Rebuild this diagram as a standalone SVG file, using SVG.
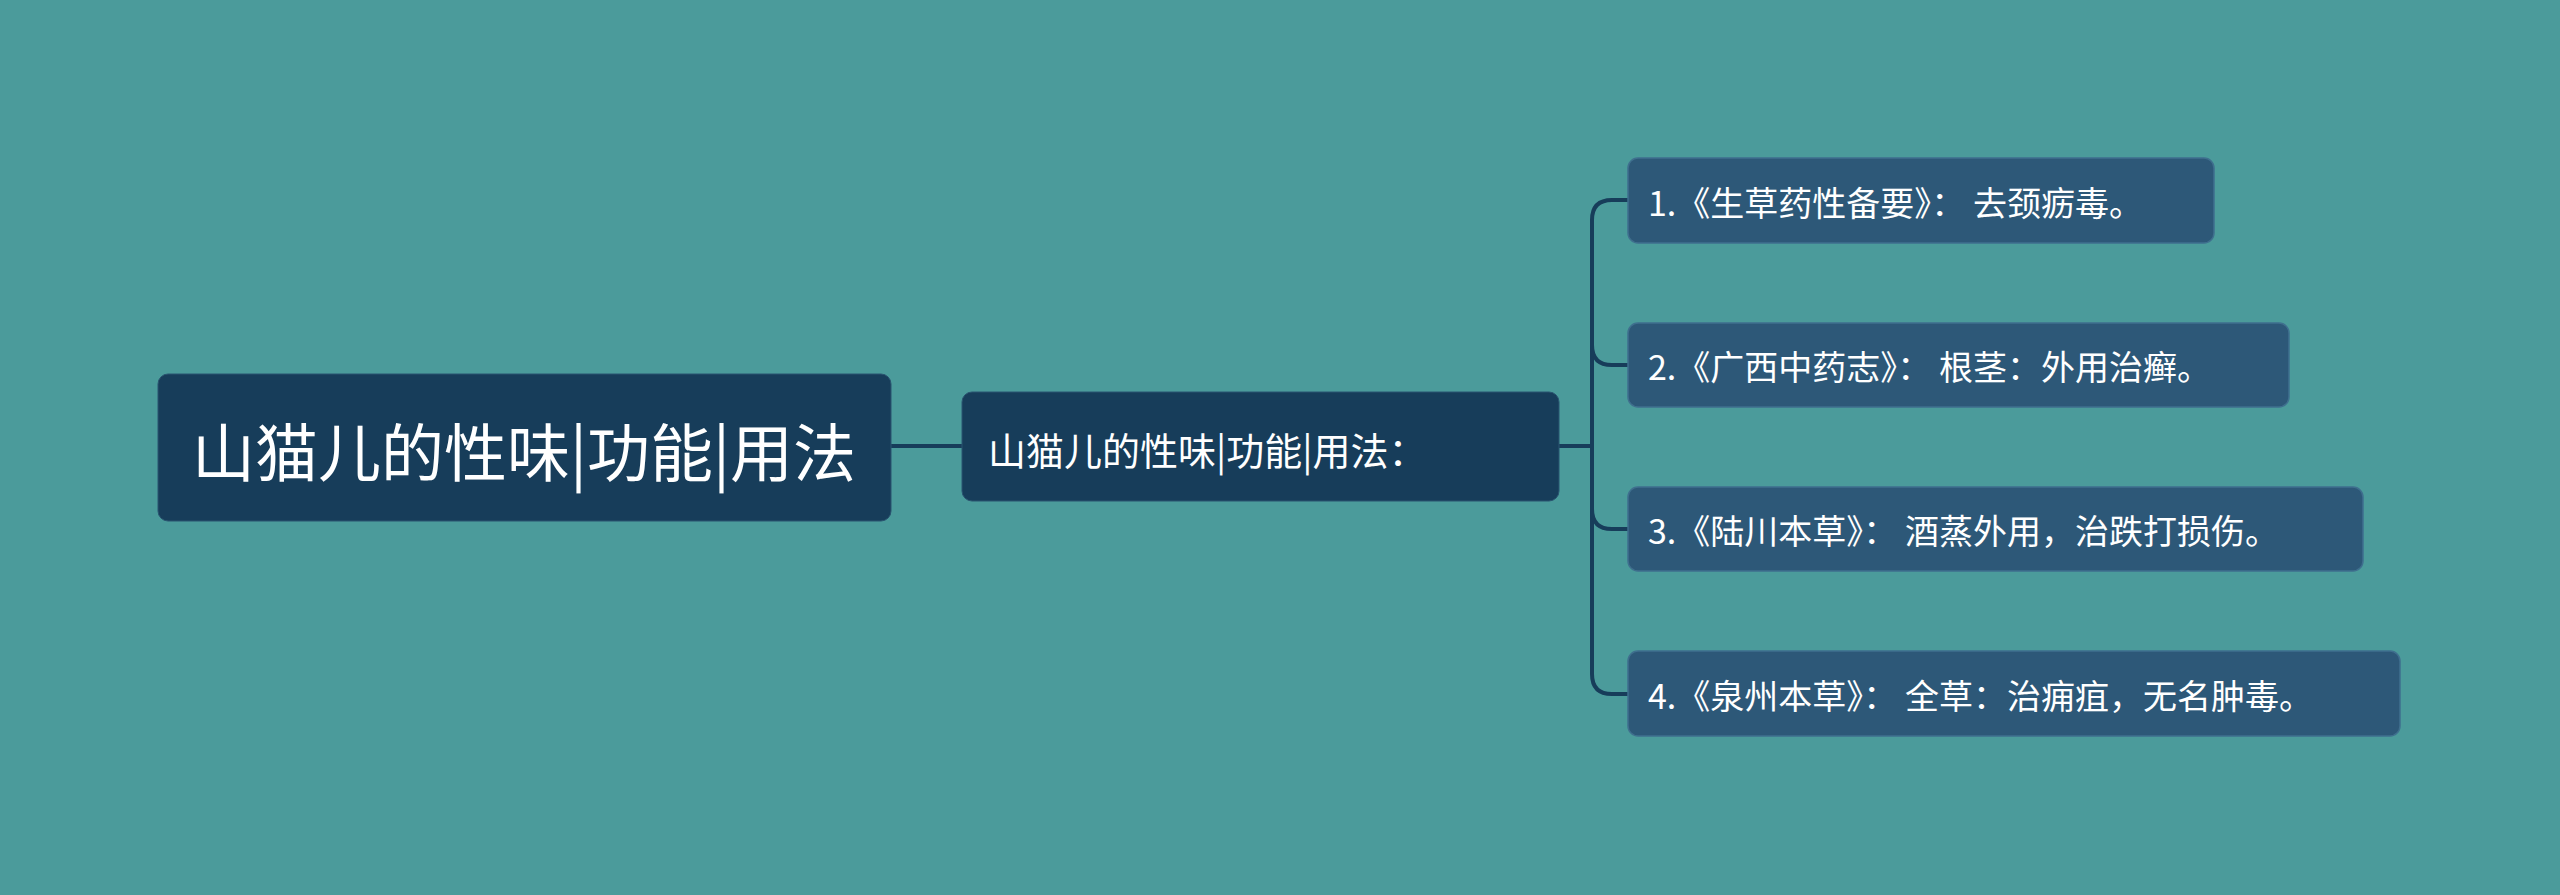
<svg xmlns="http://www.w3.org/2000/svg" width="2560" height="895" viewBox="0 0 2560 895">
<style>
text{font-family:"Noto Sans CJK SC","Noto Sans",sans-serif;fill:#fff;dominant-baseline:central}
.l rect{fill:#2d5878;stroke:#3f6f8e;stroke-width:1.5}
.l text{font-size:34px}
path{fill:none;stroke:#173d5a;stroke-width:4}
</style>
<rect width="2560" height="895" fill="#4b9b9b"/>
<g id="connectors">
<path d="M891 446H962"/>
<path d="M1559 446H1592"/>
<path d="M1628 200H1612Q1592 200 1592 220V674Q1592 694 1612 694H1628"/>
<path d="M1592 345Q1592 365 1612 365H1628"/>
<path d="M1592 509Q1592 529 1612 529H1628"/>
</g>
<g id="root"><rect x="158" y="374" width="733" height="147" rx="10" fill="#173d5a" stroke="#2a5470"/><text x="524" y="448" font-size="63" text-anchor="middle">山猫儿的性味|功能|用法</text></g>
<g id="mid"><rect x="962" y="392" width="597" height="109" rx="10" fill="#173d5a" stroke="#2a5470"/><text x="988" y="448" font-size="38">山猫儿的性味|功能|用法：</text></g>
<g id="n1" class="l"><rect x="1628" y="158" width="586" height="85" rx="10"/><text x="1648" y="201">1.《生草药性备要》：  去颈疬毒。</text></g>
<g id="n2" class="l"><rect x="1628" y="323" width="661" height="84" rx="10"/><text x="1648" y="365">2.《广西中药志》：  根茎：外用治癣。</text></g>
<g id="n3" class="l"><rect x="1628" y="487" width="735" height="84" rx="10"/><text x="1648" y="529">3.《陆川本草》：  酒蒸外用，治跌打损伤。</text></g>
<g id="n4" class="l"><rect x="1628" y="651" width="772" height="85" rx="10"/><text x="1648" y="694">4.《泉州本草》：  全草：治痈疽，无名肿毒。</text></g>
</svg>
